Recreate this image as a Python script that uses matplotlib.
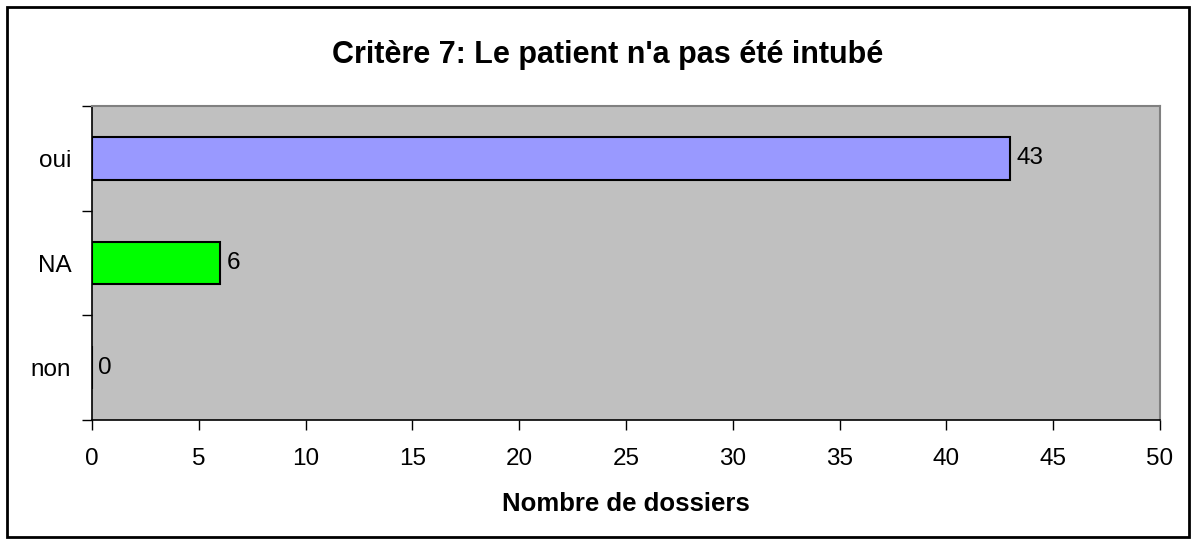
import matplotlib.pyplot as plt

# données
categories = ['non', 'NA', 'oui']
valeurs = [0, 6, 43]
couleurs = ['#9999FF', '#00FF00', '#9999FF']
xticks = [0, 5, 10, 15, 20, 25, 30, 35, 40, 45, 50]

plt.rcParams['font.family'] = ['Liberation Sans', 'DejaVu Sans']

fig = plt.figure(figsize=(11.96, 5.44), dpi=100)
ax = fig.add_axes([92 / 1196, 124 / 544, 1068 / 1196, 314 / 544])
ax.set_facecolor('#C0C0C0')

pos = list(range(len(categories)))
ax.barh(pos, valeurs, height=0.41, color=couleurs, edgecolor='black', linewidth=1.5)

for p, v in zip(pos, valeurs):
    ax.text(v + 0.3, p, str(v), va='center', ha='left', fontsize=17.5)

ax.set_xlim(0, 50)
ax.set_ylim(-0.5, 2.5)
ax.set_xticks(xticks)
ax.set_xticklabels([str(t) for t in xticks], fontsize=17.5)
ax.set_yticks([-0.5, 0.5, 1.5, 2.5])
ax.set_yticks(pos, minor=True)
ax.set_yticklabels([], minor=False)
ax.set_yticklabels(categories, minor=True, fontsize=17.5)
ax.tick_params(axis='y', which='minor', length=0, pad=15)
ax.tick_params(axis='both', which='major', length=7, width=1, direction='out')
ax.tick_params(axis='x', pad=13)

for s in ['left', 'bottom']:
    ax.spines[s].set_color('black')
    ax.spines[s].set_linewidth(1.2)
for s in ['top', 'right']:
    ax.spines[s].set_color('#808080')
    ax.spines[s].set_linewidth(1.5)

ax.set_xlabel('Nombre de dossiers', fontsize=18.5, fontweight='bold', labelpad=16)
fig.text(0.508, 0.898, "Critère 7: Le patient n'a pas été intubé",
         ha='center', va='center', fontsize=22, fontweight='bold')

# cadre
fig.patches.append(plt.Rectangle((7 / 1196, 7 / 544), 1182 / 1196, 530 / 544,
                                 transform=fig.transFigure, fill=False,
                                 edgecolor='black', linewidth=2))

plt.savefig('out.png', dpi=100)
